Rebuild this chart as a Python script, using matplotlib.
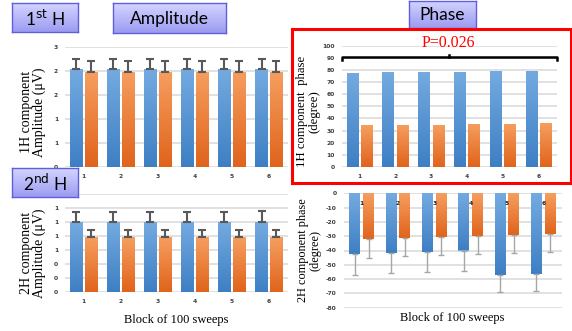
import matplotlib
matplotlib.use("Agg")
import matplotlib.pyplot as plt
import numpy as np
from matplotlib.colors import LinearSegmentedColormap
from matplotlib.patches import Rectangle

# valeurs
blocks = ["1", "2", "3", "4", "5", "6"]

amp1_blue = [2.44, 2.44, 2.44, 2.44, 2.44, 2.44]
amp1_blue_err = [0.27, 0.27, 0.27, 0.27, 0.27, 0.27]
amp1_orange = [2.38, 2.38, 2.38, 2.38, 2.38, 2.38]
amp1_orange_err = [0.26, 0.26, 0.26, 0.26, 0.26, 0.26]

amp2_blue = [1.0, 1.0, 1.0, 1.0, 1.0, 1.0]
amp2_blue_err = [0.14, 0.14, 0.14, 0.14, 0.14, 0.16]
amp2_orange = [0.78, 0.78, 0.78, 0.78, 0.78, 0.78]
amp2_orange_err = [0.11, 0.11, 0.11, 0.11, 0.11, 0.11]

phase1_blue = [77.7, 78.2, 78.2, 78.7, 79.0, 79.5]
phase1_orange = [34.4, 35.0, 35.0, 35.5, 35.8, 36.1]

phase2_blue = [-42.4, -41.5, -40.8, -40.0, -56.8, -56.3]
phase2_blue_err = [14.7, 14.5, 14.4, 14.5, 12.5, 12.1]
phase2_orange = [-32.0, -31.0, -30.3, -29.6, -28.9, -28.4]
phase2_orange_err = [13.0, 13.0, 13.0, 12.7, 13.0, 12.4]

p_text = "P=0.026"

W, H = 572, 331
BLUE = ("#74aae0", "#3e7fc4")
ORANGE = ("#f69e5f", "#e0641c")
SERIF = "Liberation Serif"


def rect(x0, y0, x1, y1):
    return [x0 / W, 1 - y1 / H, (x1 - x0) / W, (y1 - y0) / H]


def shade(ax, bars, colors):
    # dégradé vertical dans chaque barre
    cmap = LinearSegmentedColormap.from_list("g", [colors[1], colors[0]])
    grad = np.linspace(0, 1, 64).reshape(-1, 1)
    for b in bars:
        x0, y0 = b.get_x(), b.get_y()
        w, h = b.get_width(), b.get_height()
        im = ax.imshow(grad, cmap=cmap, origin="lower", aspect="auto",
                       extent=[x0, x0 + w, min(y0, y0 + h), max(y0, y0 + h)],
                       zorder=2, interpolation="bilinear")
        im.set_clip_path(b)


def setup(ax, ylim, yticks, fmt, hide_top=False):
    ax.set_xlim(-0.5, 5.5)
    ax.set_ylim(*ylim)
    ax.set_yticks(yticks)
    labels = [fmt.format(v) for v in yticks]
    if hide_top:
        labels[-1] = ""  # caché par l'encadré dans l'original
    ax.set_yticklabels(labels)
    ax.set_xticks(range(len(blocks)))
    ax.set_xticklabels(blocks)
    for s in ax.spines.values():
        s.set_visible(False)
    ax.grid(axis="y", color="#d9d9d9", lw=1.1, zorder=0)
    ax.set_axisbelow(True)
    ax.tick_params(length=0, labelsize=4.3, colors="#404040", pad=5)
    for t in ax.get_xticklabels() + ax.get_yticklabels():
        t.set_fontweight("bold")


def bars(ax, blue, orange, off, w):
    x = np.arange(len(blocks))
    b1 = ax.bar(x - off, blue, w, color=BLUE[0], zorder=2)
    b2 = ax.bar(x + off, orange, w, color=ORANGE[0], zorder=2)
    shade(ax, b1, BLUE)
    shade(ax, b2, ORANGE)
    return x


def title_box(x0, y0, x1, y1, text):
    bx = fig.add_axes(rect(x0, y0, x1, y1))
    cmap = LinearSegmentedColormap.from_list("box", ["#9c9cf2", "#d4d4ff"])
    bx.imshow(np.linspace(0, 1, 32).reshape(-1, 1), cmap=cmap, origin="lower",
              aspect="auto", extent=[0, 1, 0, 1])
    bx.set_xticks([])
    bx.set_yticks([])
    for s in bx.spines.values():
        s.set_color("#5f5fdc")
        s.set_linewidth(1)
    bx.text(0.5, 0.47, text, ha="center", va="center", fontsize=12.5,
            family="Lato", transform=bx.transAxes)


fig = plt.figure(figsize=(W / 100, H / 100), dpi=100)

# 1H amplitude
ax1 = fig.add_axes(rect(65, 47, 287.5, 167))
x = bars(ax1, amp1_blue, amp1_orange, 0.2, 0.34)
ax1.errorbar(x - 0.2, amp1_blue, yerr=[np.zeros(6), amp1_blue_err], fmt="none",
             ecolor="#595959", elinewidth=1.5, capsize=3, capthick=1.5, zorder=3)
ax1.errorbar(x + 0.2, amp1_orange, yerr=[np.zeros(6), amp1_orange_err], fmt="none",
             ecolor="#595959", elinewidth=1.5, capsize=3, capthick=1.5, zorder=3)
setup(ax1, (0, 3), np.linspace(0, 3, 6), "{:.0f}")
ax1.set_ylabel("1H component\nAmplitude (\u03bcV)", family=SERIF, fontsize=10,
               linespacing=1.0)
ax1.yaxis.set_label_coords(-0.085, 0.46)

# 2H amplitude
ax2 = fig.add_axes(rect(65, 194, 287.5, 292))
x = bars(ax2, amp2_blue, amp2_orange, 0.2, 0.34)
ax2.errorbar(x - 0.2, amp2_blue, yerr=[np.zeros(6), amp2_blue_err], fmt="none",
             ecolor="#595959", elinewidth=1.5, capsize=3, capthick=1.5, zorder=3)
ax2.errorbar(x + 0.2, amp2_orange, yerr=[np.zeros(6), amp2_orange_err], fmt="none",
             ecolor="#595959", elinewidth=1.5, capsize=3, capthick=1.5, zorder=3)
setup(ax2, (0, 1.4), np.arange(0, 1.41, 0.2), "{:.0f}", hide_top=True)
ax2.set_ylabel("2H component\nAmplitude (\u03bcV)", family=SERIF, fontsize=10,
               linespacing=1.0)
ax2.yaxis.set_label_coords(-0.085, 0.4)
ax2.set_xlabel("Block of 100 sweeps", family=SERIF, fontsize=9, labelpad=7)

# 1H phase
ax3 = fig.add_axes(rect(341.6, 45.7, 556.6, 167))
x = bars(ax3, phase1_blue, phase1_orange, 0.2, 0.32)
setup(ax3, (0, 100), np.arange(0, 101, 10), "{:.0f}")
ax3.set_ylabel("1H component  phase\n(degree)", family=SERIF, fontsize=9.2,
               linespacing=1.05)
ax3.yaxis.set_label_coords(-0.1, 0.46)
top = max(phase1_blue) + 11
ax3.plot([-0.5, -0.5, 5.5, 5.5], [top - 2.5, top, top, top - 2.5], color="black",
         lw=1.8, clip_on=False, zorder=4)
ax3.plot([2.5, 2.5], [top, top + 2], color="black", lw=1.8, clip_on=False, zorder=4)
fig.text(448 / W, 1 - 43 / H, p_text, color="#ff0000", family=SERIF, fontsize=11.5,
         ha="center", va="center")

# 2H phase
ax4 = fig.add_axes(rect(343.5, 193.3, 561.5, 307.7))
x = bars(ax4, phase2_blue, phase2_orange, 0.19, 0.3)
ax4.errorbar(x - 0.19, phase2_blue, yerr=[phase2_blue_err, np.zeros(6)], fmt="none",
             ecolor="#a6a6a6", elinewidth=1, capsize=2, capthick=1, zorder=3)
ax4.errorbar(x + 0.19, phase2_orange, yerr=[phase2_orange_err, np.zeros(6)], fmt="none",
             ecolor="#a6a6a6", elinewidth=1, capsize=2, capthick=1, zorder=3)
setup(ax4, (-80, 0), np.arange(-80, 1, 10), "{:.0f}")
ax4.tick_params(axis="x", labelbottom=False)
# étiquettes des catégories sous l'axe à 0, par-dessus les barres
for xi, lab in zip(x, blocks):
    ax4.annotate(lab, (xi, 0), xytext=(0, -7), textcoords="offset points",
                 ha="center", va="center", fontsize=4.3, fontweight="bold",
                 color="#262626", zorder=6)
ax4.set_ylabel("2H component phase\n(degree)", family=SERIF, fontsize=8.8,
               linespacing=1.05)
ax4.yaxis.set_label_coords(-0.1, 0.5)
ax4.set_xlabel("Block of 100 sweeps", family=SERIF, fontsize=9, labelpad=3)

# cadre rouge
fig.patches.append(Rectangle((292 / W, 1 - 183 / H), 278.5 / W, 154 / H,
                             transform=fig.transFigure, fill=False,
                             edgecolor="#ff0000", lw=2.2, zorder=10))

title_box(12.3, 3.3, 77.7, 32.3, r"1$^{\mathrm{st}}$ H")
title_box(113, 3.3, 226, 33, "Amplitude")
title_box(409, 0.5, 475.7, 28, "Phase")
title_box(12.3, 168.3, 77.7, 196.7, r"2$^{\mathrm{nd}}$ H")

fig.savefig("out.png", dpi=100)
